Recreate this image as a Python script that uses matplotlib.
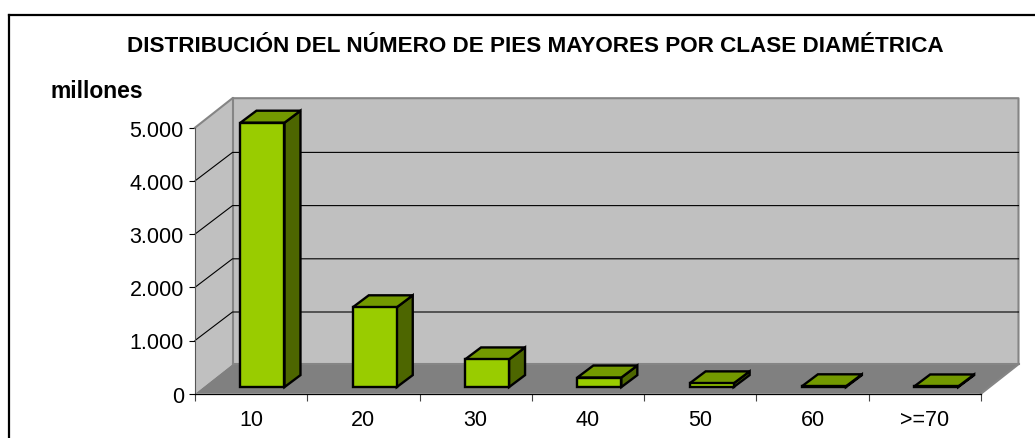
import matplotlib
matplotlib.use("Agg")
import matplotlib.pyplot as plt
from matplotlib.lines import Line2D
from matplotlib.patches import Polygon

categories = ["10", "20", "30", "40", "50", "60", ">=70"]
values = [4970, 1500, 520, 180, 70, 15, 12]
y_ticks = [0, 1000, 2000, 3000, 4000, 5000]

W, H = 1035, 439
plt.rcParams["font.family"] = ["Liberation Sans", "DejaVu Sans"]

fig = plt.figure(figsize=(W / 100, H / 100), dpi=100)
ax = fig.add_axes([195 / W, (H - 394.7) / H, 786 / W, 266 / H])
ax.set_xlim(0, len(categories))
ax.set_ylim(0, 5000)

# pixels to data units, the chart is a fake 3D so depth is just an offset
px_x = len(categories) / 786
px_y = 5000 / 266
depth_x = 37.5 * px_x
depth_y = 29.5 * px_y
grid_y = 28.5 * px_y
n = len(categories)


def poly(pts, face, edge="none", lw=0, z=1):
    ax.add_patch(Polygon(pts, closed=True, facecolor=face, edgecolor=edge,
                         linewidth=lw, zorder=z, clip_on=False, joinstyle="miter"))


# walls and floor
poly([(0, 0), (depth_x, depth_y), (depth_x, 5000 + depth_y), (0, 5000)], "#C0C0C0", z=1)
poly([(depth_x, depth_y), (n + depth_x, depth_y), (n + depth_x, 5000 + depth_y),
      (depth_x, 5000 + depth_y)], "#C0C0C0", z=1)
poly([(0, 0), (n, 0), (n + depth_x, depth_y), (depth_x, depth_y)], "#808080", z=1)

# wall borders
wall_x = [0, depth_x, n + depth_x, n + depth_x, n]
wall_y = [5000, 5000 + depth_y, 5000 + depth_y, depth_y, 0]
ax.plot(wall_x, wall_y, color="#858585", lw=1.5, clip_on=False, zorder=2)
ax.plot([depth_x, depth_x], [depth_y, 5000 + depth_y], color="#858585", lw=1.5, clip_on=False, zorder=2)
ax.plot([depth_x, n + depth_x], [depth_y, depth_y], color="#858585", lw=1.5, clip_on=False, zorder=2)

# gridlines
for v in y_ticks[1:-1]:
    ax.plot([0, depth_x, n + depth_x], [v, v + grid_y, v + grid_y],
            color="black", lw=0.8, clip_on=False, zorder=3)

# bars
bar_left = 0.405
bar_w = 44 * px_x
shift_y = 6.6 * px_y
bar_dx = 16 * px_x
bar_dy = 12 * px_y
for i, v in enumerate(values):
    x0 = i + bar_left
    x1 = x0 + bar_w
    y0 = shift_y
    y1 = shift_y + v
    poly([(x1, y0), (x1 + bar_dx, y0 + bar_dy), (x1 + bar_dx, y1 + bar_dy), (x1, y1)],
         "#4D6600", "black", 1.7, z=5)
    poly([(x0, y1), (x1, y1), (x1 + bar_dx, y1 + bar_dy), (x0 + bar_dx, y1 + bar_dy)],
         "#739900", "black", 1.7, z=5)
    poly([(x0, y0), (x1, y0), (x1, y1), (x0, y1)], "#99CC00", "black", 1.7, z=5)

# axes
for s in ["top", "right"]:
    ax.spines[s].set_visible(False)
ax.patch.set_visible(False)
ax.spines["left"].set_color("#555555")
ax.spines["left"].set_linewidth(0.8)
ax.spines["bottom"].set_color("black")
ax.spines["bottom"].set_linewidth(0.9)
ax.spines["left"].set_zorder(4)
ax.spines["bottom"].set_zorder(4)

ax.set_yticks(y_ticks)
ax.set_yticklabels([f"{v:,}".replace(",", ".") for v in y_ticks], fontsize=15.5)
ax.tick_params(axis="y", length=4.5, width=0.8, pad=3.5, color="black")
ax.set_xticks(range(n + 1))
ax.set_xticklabels([])
ax.set_xticks([i + 0.5 for i in range(n)], minor=True)
ax.set_xticklabels(categories, minor=True, fontsize=15.5)
ax.tick_params(axis="x", which="major", length=5, width=0.8, color="#444444")
ax.tick_params(axis="x", which="minor", length=0, pad=11)

fig.text(535 / W, (H - 52) / H, "DISTRIBUCIÓN DEL NÚMERO DE PIES MAYORES POR CLASE DIAMÉTRICA",
         fontsize=16.2, fontweight="bold", ha="center", va="baseline")
fig.text(51 / W, (H - 98) / H, "millones", fontsize=16.5, fontweight="bold", ha="left", va="baseline")

# chart frame, only left and top edges show in the crop
fig.add_artist(Line2D([9 / W, 9 / W], [0, (H - 15.5) / H], color="black", lw=1.6))
fig.add_artist(Line2D([8.5 / W, 1], [(H - 15.5) / H, (H - 15.5) / H], color="black", lw=1.6))

fig.savefig("out.png", dpi=100)
